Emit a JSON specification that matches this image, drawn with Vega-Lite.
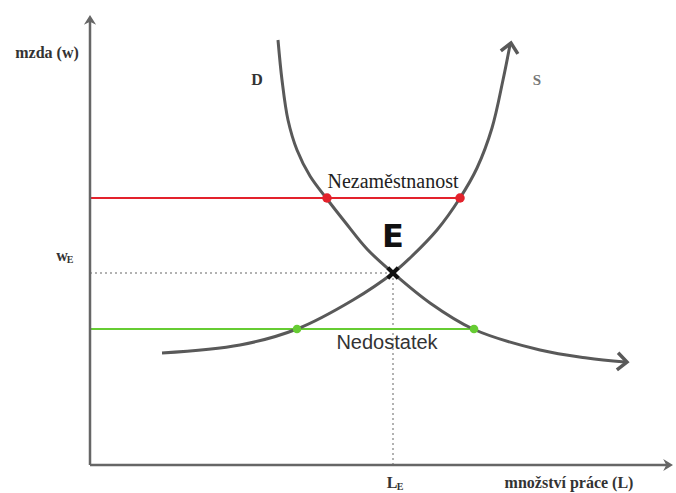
{
  "$schema": "https://vega.github.io/schema/vega-lite/v6.json",
  "width": 676,
  "height": 493,
  "padding": 0,
  "autosize": {"type": "fit", "contains": "padding"},
  "background": "white",
  "config": {"view": {"stroke": null}},
  "datasets": {
    "axes": [
      {"axis": "w", "L": 0, "w": 0},
      {"axis": "w", "L": 0, "w": 447},
      {"axis": "L", "L": 0, "w": 0},
      {"axis": "L", "L": 580, "w": 0}
    ],
    "curves": [
      {"curve": "D", "o": 1, "L": 188, "w": 425},
      {"curve": "D", "o": 2, "L": 192, "w": 385},
      {"curve": "D", "o": 3, "L": 198, "w": 345},
      {"curve": "D", "o": 4, "L": 207, "w": 315},
      {"curve": "D", "o": 5, "L": 220, "w": 289},
      {"curve": "D", "o": 6, "L": 237, "w": 266},
      {"curve": "D", "o": 7, "L": 255, "w": 243},
      {"curve": "D", "o": 8, "L": 277, "w": 216},
      {"curve": "D", "o": 9, "L": 303, "w": 192},
      {"curve": "D", "o": 10, "L": 340, "w": 162},
      {"curve": "D", "o": 11, "L": 383, "w": 136},
      {"curve": "D", "o": 12, "L": 450, "w": 115},
      {"curve": "D", "o": 13, "L": 497, "w": 107},
      {"curve": "D", "o": 14, "L": 535, "w": 103},
      {"curve": "S", "o": 1, "L": 72, "w": 112},
      {"curve": "S", "o": 2, "L": 150, "w": 120},
      {"curve": "S", "o": 3, "L": 207, "w": 136},
      {"curve": "S", "o": 4, "L": 263, "w": 165},
      {"curve": "S", "o": 5, "L": 303, "w": 192},
      {"curve": "S", "o": 6, "L": 320, "w": 207},
      {"curve": "S", "o": 7, "L": 347, "w": 235},
      {"curve": "S", "o": 8, "L": 370, "w": 267},
      {"curve": "S", "o": 9, "L": 387, "w": 297},
      {"curve": "S", "o": 10, "L": 402, "w": 337},
      {"curve": "S", "o": 11, "L": 413, "w": 385},
      {"curve": "S", "o": 12, "L": 420, "w": 420}
    ]
  },
  "encoding": {
    "x": {"field": "L", "type": "quantitative", "scale": {"domain": [-90, 586], "nice": false, "zero": false}, "axis": null},
    "y": {"field": "w", "type": "quantitative", "scale": {"domain": [-28, 465], "nice": false, "zero": false}, "axis": null}
  },
  "layer": [
    {
      "data": {"values": [
        {"seg": "h", "o": 1, "L": 0, "w": 192},
        {"seg": "h", "o": 2, "L": 303, "w": 192},
        {"seg": "v", "o": 1, "L": 303, "w": 192},
        {"seg": "v", "o": 2, "L": 303, "w": 0}
      ]},
      "mark": {"type": "line", "color": "#999999", "strokeWidth": 1.5, "strokeDash": [2, 3]},
      "encoding": {"detail": {"field": "seg"}, "order": {"field": "o"}}
    },
    {
      "data": {"values": [{"L": 0, "L2": 370, "w": 267}]},
      "mark": {"type": "rule", "color": "#e3222c", "strokeWidth": 2},
      "encoding": {"x2": {"field": "L2"}}
    },
    {
      "data": {"values": [{"L": 0, "L2": 384, "w": 136}]},
      "mark": {"type": "rule", "color": "#66cc33", "strokeWidth": 2},
      "encoding": {"x2": {"field": "L2"}}
    },
    {
      "data": {"name": "axes"},
      "mark": {"type": "line", "color": "#666666", "strokeWidth": 2.5},
      "encoding": {"detail": {"field": "axis"}}
    },
    {
      "data": {"values": [{"L": 0, "w": 450}]},
      "mark": {"type": "point", "shape": "M0,0L-1,1.6L0,1.1L1,1.6Z", "filled": true, "color": "#666666", "size": 150, "opacity": 1}
    },
    {
      "data": {"values": [{"L": 583, "w": 0}]},
      "mark": {"type": "point", "shape": "M0,0L-1,1.6L0,1.1L1,1.6Z", "filled": true, "color": "#666666", "size": 150, "angle": 90, "opacity": 1}
    },
    {
      "data": {"name": "curves"},
      "mark": {"type": "line", "color": "#595959", "strokeWidth": 3, "interpolate": "catmull-rom"},
      "encoding": {"detail": {"field": "curve"}, "order": {"field": "o"}}
    },
    {
      "data": {"values": [{"L": 421, "w": 422}]},
      "mark": {"type": "point", "shape": "M-1,1.1L0,0L1,1.1", "filled": false, "color": "#595959", "strokeWidth": 3.5, "size": 300, "angle": 10, "opacity": 1}
    },
    {
      "data": {"values": [{"L": 537, "w": 103}]},
      "mark": {"type": "point", "shape": "M-1,1.1L0,0L1,1.1", "filled": false, "color": "#595959", "strokeWidth": 3.5, "size": 300, "angle": 94, "opacity": 1}
    },
    {
      "data": {"values": [{"L": 237, "w": 267}, {"L": 370, "w": 267}]},
      "mark": {"type": "point", "filled": true, "color": "#e3222c", "size": 90, "opacity": 1}
    },
    {
      "data": {"values": [{"L": 207, "w": 136}, {"L": 384, "w": 136}]},
      "mark": {"type": "point", "filled": true, "color": "#66cc33", "size": 75, "opacity": 1}
    },
    {
      "data": {"values": [{"L": 303, "w": 192}]},
      "mark": {"type": "point", "shape": "M-1,-1L1,1M-1,1L1,-1", "filled": false, "color": "#111111", "strokeWidth": 4, "size": 110, "opacity": 1}
    },
    {
      "data": {"values": [{"label": "E", "L": 303, "w": 228}]},
      "mark": {"type": "text", "font": "DejaVu Sans", "fontWeight": "bold", "fontSize": 32, "color": "#111111", "baseline": "middle", "align": "center"},
      "encoding": {"text": {"field": "label"}}
    },
    {
      "data": {"values": [{"label": "Nezaměstnanost", "L": 303, "w": 283}]},
      "mark": {"type": "text", "font": "Liberation Serif", "fontSize": 20, "color": "#222222", "baseline": "middle", "align": "center"},
      "encoding": {"text": {"field": "label"}}
    },
    {
      "data": {"values": [{"label": "Nedostatek", "L": 297, "w": 122}]},
      "mark": {"type": "text", "font": "Liberation Sans", "fontSize": 20, "color": "#333333", "baseline": "middle", "align": "center"},
      "encoding": {"text": {"field": "label"}}
    },
    {
      "data": {"values": [
        {"label": "mzda (w)", "L": -43, "w": 412},
        {"label": "D", "L": 167, "w": 385},
        {"label": "množství práce (L)", "L": 479, "w": -18},
        {"label": "w", "L": -28, "w": 209},
        {"label": "L", "L": 302, "w": -18}
      ]},
      "mark": {"type": "text", "font": "Liberation Serif", "fontWeight": "bold", "fontSize": 16, "color": "#333333", "baseline": "middle", "align": "center"},
      "encoding": {"text": {"field": "label"}}
    },
    {
      "data": {"values": [{"label": "S", "L": 447, "w": 385}]},
      "mark": {"type": "text", "font": "Liberation Serif", "fontWeight": "bold", "fontSize": 15, "color": "#777777", "baseline": "middle", "align": "center"},
      "encoding": {"text": {"field": "label"}}
    },
    {
      "data": {"values": [
        {"label": "E", "L": -20, "w": 205},
        {"label": "E", "L": 310, "w": -22}
      ]},
      "mark": {"type": "text", "font": "Liberation Serif", "fontWeight": "bold", "fontSize": 10, "color": "#333333", "baseline": "middle", "align": "center"},
      "encoding": {"text": {"field": "label"}}
    }
  ]
}
